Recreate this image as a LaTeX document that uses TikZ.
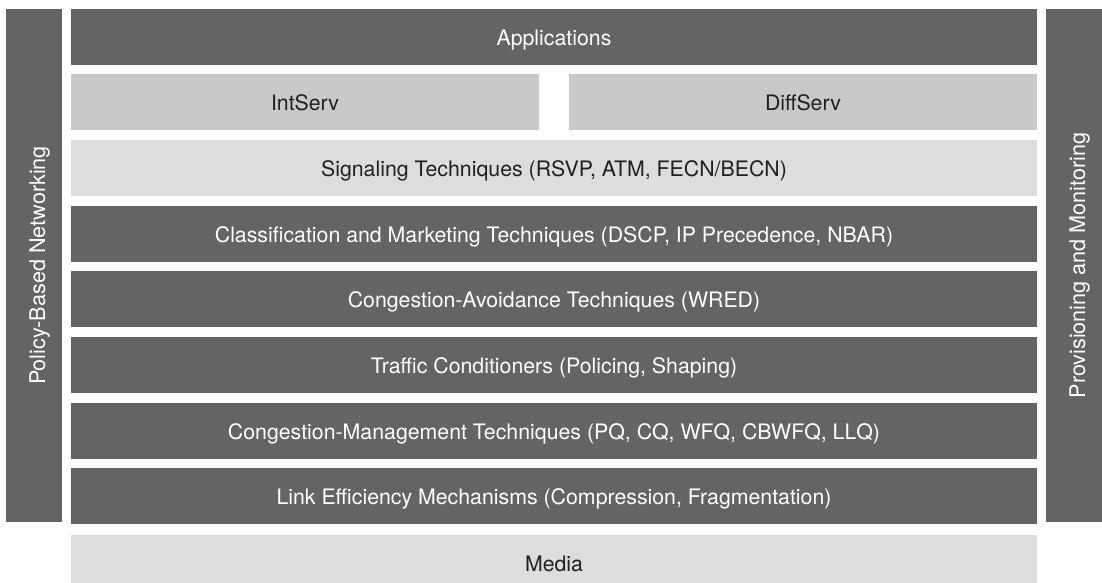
\documentclass[tikz,border=0pt]{standalone}
\usepackage{fontspec}
\setmainfont{TeX Gyre Heros}
\usetikzlibrary{positioning}
\definecolor{layerdark}{HTML}{636466}
\definecolor{layermid}{HTML}{C8C9CB}
\definecolor{layerlight}{HTML}{DCDDDE}
\definecolor{layerink}{HTML}{231F20}

\begin{document}
\begin{tikzpicture}[
    x=1pt, y=-1pt,
    layer/.style={fill=#1, minimum width=966pt, minimum height=56pt, inner sep=0pt, text height=17pt, text depth=0pt, font=\fontsize{21.3}{25}\selectfont},
    dark/.style={layer=layerdark, text=white},
    pale/.style={layer=#1, text=layerink},
    side/.style={fill=layerdark, text=white, rotate=90, minimum width=513pt, minimum height=56pt, inner sep=0pt, text height=22pt, text depth=0pt, font=\fontsize{21.6}{25}\selectfont},
    node distance=9.3pt
  ]
    \clip (0,0) rectangle (1102,582);

    \node[dark] (apps) at (554,37) {Applications};
    \node[pale=layermid, minimum width=468pt, below=9pt of apps.south west, anchor=north west] (intserv) {IntServ};
    \node[pale=layermid, minimum width=468pt, below=9pt of apps.south east, anchor=north east] (diffserv) {DiffServ};
    \node[pale=layerlight, below=9pt of intserv.south west, anchor=north west] (signal) {Signaling Techniques (RSVP, ATM, FECN/BECN)};
    \node[dark, below=of signal] (classify) {Classification and Marketing Techniques (DSCP, IP Precedence, NBAR)};
    \node[dark, below=of classify] (avoid) {Congestion-Avoidance Techniques (WRED)};
    \node[dark, below=of avoid] (condition) {Traffic Conditioners (Policing, Shaping)};
    \node[dark, below=of condition] (manage) {Congestion-Management Techniques (PQ, CQ, WFQ, CBWFQ, LLQ)};
    \node[dark, below=of manage] (link) {Link Efficiency Mechanisms (Compression, Fragmentation)};
    \node[pale=layerlight, below=10pt of link] (media) {Media};

    % side bars
    \node[side] (policy) at (34,265.5) {Policy-Based Networking};
    \node[side] (provision) at (1074,265.5) {Provisioning and Monitoring};
\end{tikzpicture}
\end{document}
